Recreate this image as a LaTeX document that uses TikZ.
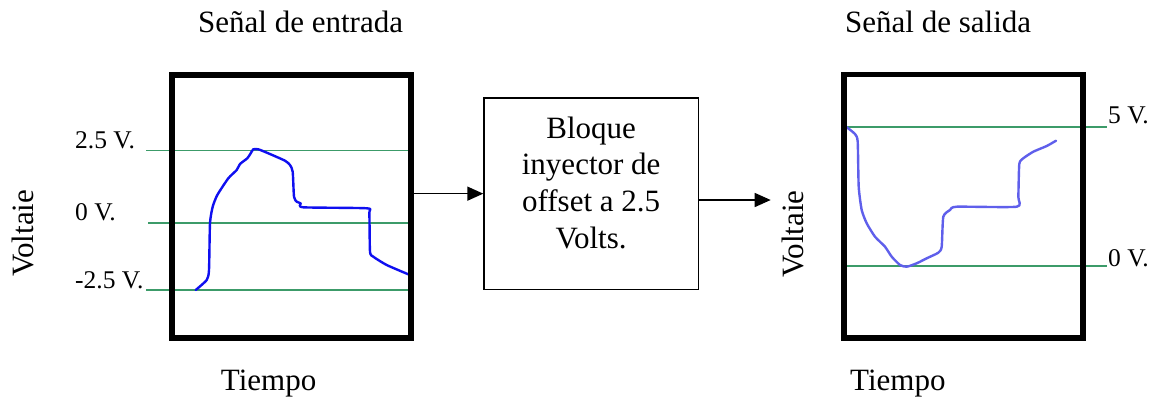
\documentclass[tikz,border=0pt]{standalone}
\usepackage{fontspec}
\setmainfont{Liberation Serif}
\usetikzlibrary{arrows.meta}
\definecolor{gridgreen}{RGB}{60,155,105}
\definecolor{tracein}{RGB}{15,15,240}
\definecolor{traceout}{RGB}{95,95,235}
\begin{document}
\begin{tikzpicture}[x=1pt,y=-1pt,
  screen/.style={draw=black, line width=5.7pt, minimum width=239.3pt,
    minimum height=263.3pt, inner sep=0pt},
  blockbox/.style={draw=black, line width=1.5pt, minimum width=214.2pt,
    minimum height=191.2pt, inner sep=0pt},
  level/.style={draw=gridgreen, line width=1.6pt},
  trace/.style={line width=2.4pt, line join=round, line cap=round},
  flow/.style={draw=black, line width=1.5pt, -{Triangle[length=16pt,width=14pt]}},
  big/.style={font=\fontsize{31}{36.7}\selectfont},
  small/.style={font=\fontsize{25.5}{30}\selectfont},
  lbl/.style={inner sep=0pt, anchor=base west}
]
\useasboundingbox (0,0) rectangle (1159,400);

% reference levels of the input signal
\draw[level] (146,150.3) -- (411.7,150.3);
\draw[level] (148,222.7) -- (411.7,222.7);
\draw[level] (146,290) -- (411.7,290);

% reference levels of the output signal
\draw[level] (842.3,126.7) -- (1106.7,126.7);
\draw[level] (842.3,266) -- (1106.7,266);

% input waveform
\draw[trace, draw=tracein] plot[smooth, tension=0.35] coordinates {
  (195.7,290) (206.7,280) (209,270) (210,223.3) (212.7,206.7) (217.3,195)
  (228.3,178.3) (236.7,170) (240,164) (247.3,158.3) (250.7,153.3) (253.3,149.3)
  (258.3,149.3) (268.3,153.3) (285,160.7) (290,165) (292.7,171.7) (294,196.7)
  (296.7,201.7) (300.7,203.3) (303.3,207.3) (366.7,208.3) (369.3,213.3)
  (370,251.7) (373.3,256.7) (386.7,265) (408.3,274.3)};

% output waveform
\draw[trace, draw=traceout] plot[smooth, tension=0.35] coordinates {
  (846,126.7) (855,134) (857.7,141.7) (858.7,186.7) (861.7,210) (866.7,223.3)
  (875,236.7) (885,246.7) (891.7,256.7) (900,265) (906.7,266.7) (916.7,263.3)
  (926.7,258.3) (938.3,252.7) (941.7,246.7) (943.3,216.7) (950,210)
  (956.7,206.7) (1016.7,206.7) (1018.3,196.7) (1019.3,164) (1023.3,158.3)
  (1033.3,151.7) (1046.7,146) (1056,140.7)};

% scope frames and the processing block
\node[screen] (inscr) at (291.5,206.5) {};
\node[screen] (outscr) at (963.35,206.2) {};
\node[blockbox] (blk) at (591.15,193.65) {};
\node[big, align=center, inner sep=0pt] (blktxt) at ([yshift=11pt]blk.center)
  {Bloque\\inyector de\\offset a 2.5\\Volts.};

% signal flow
\coordinate (outtip) at (770.7,200);
\draw[flow] (inscr.east |- blk.west) -- (blk.west);
\draw[flow] (blk.east |- outtip) -- (outtip);

% titles and axis labels
\node[big, lbl] (tin) at (198,32.3) {Señal de entrada};
\node[big, lbl] (tout) at (845,32.3) {Señal de salida};
\node[big, lbl] (xin) at (220.7,390) {Tiempo};
\node[big, lbl] (xout) at (850,390) {Tiempo};
\node[big, rotate=90, anchor=base, inner sep=0pt] (yin) at (33.3,233.3) {Voltaie};
\node[big, rotate=90, anchor=base, inner sep=0pt] (yout) at (803.3,234) {Voltaie};

% level values
\node[small, lbl] (l25) at (75,148.3) {2.5 V.};
\node[small, lbl] (l0) at (75,220) {0 V.};
\node[small, lbl] (lm25) at (75,288.3) {-2.5 V.};
\node[small, lbl] (r5) at (1108,123.3) {5 V.};
\node[small, lbl] (r0) at (1108,266.7) {0 V.};
\end{tikzpicture}
\end{document}
